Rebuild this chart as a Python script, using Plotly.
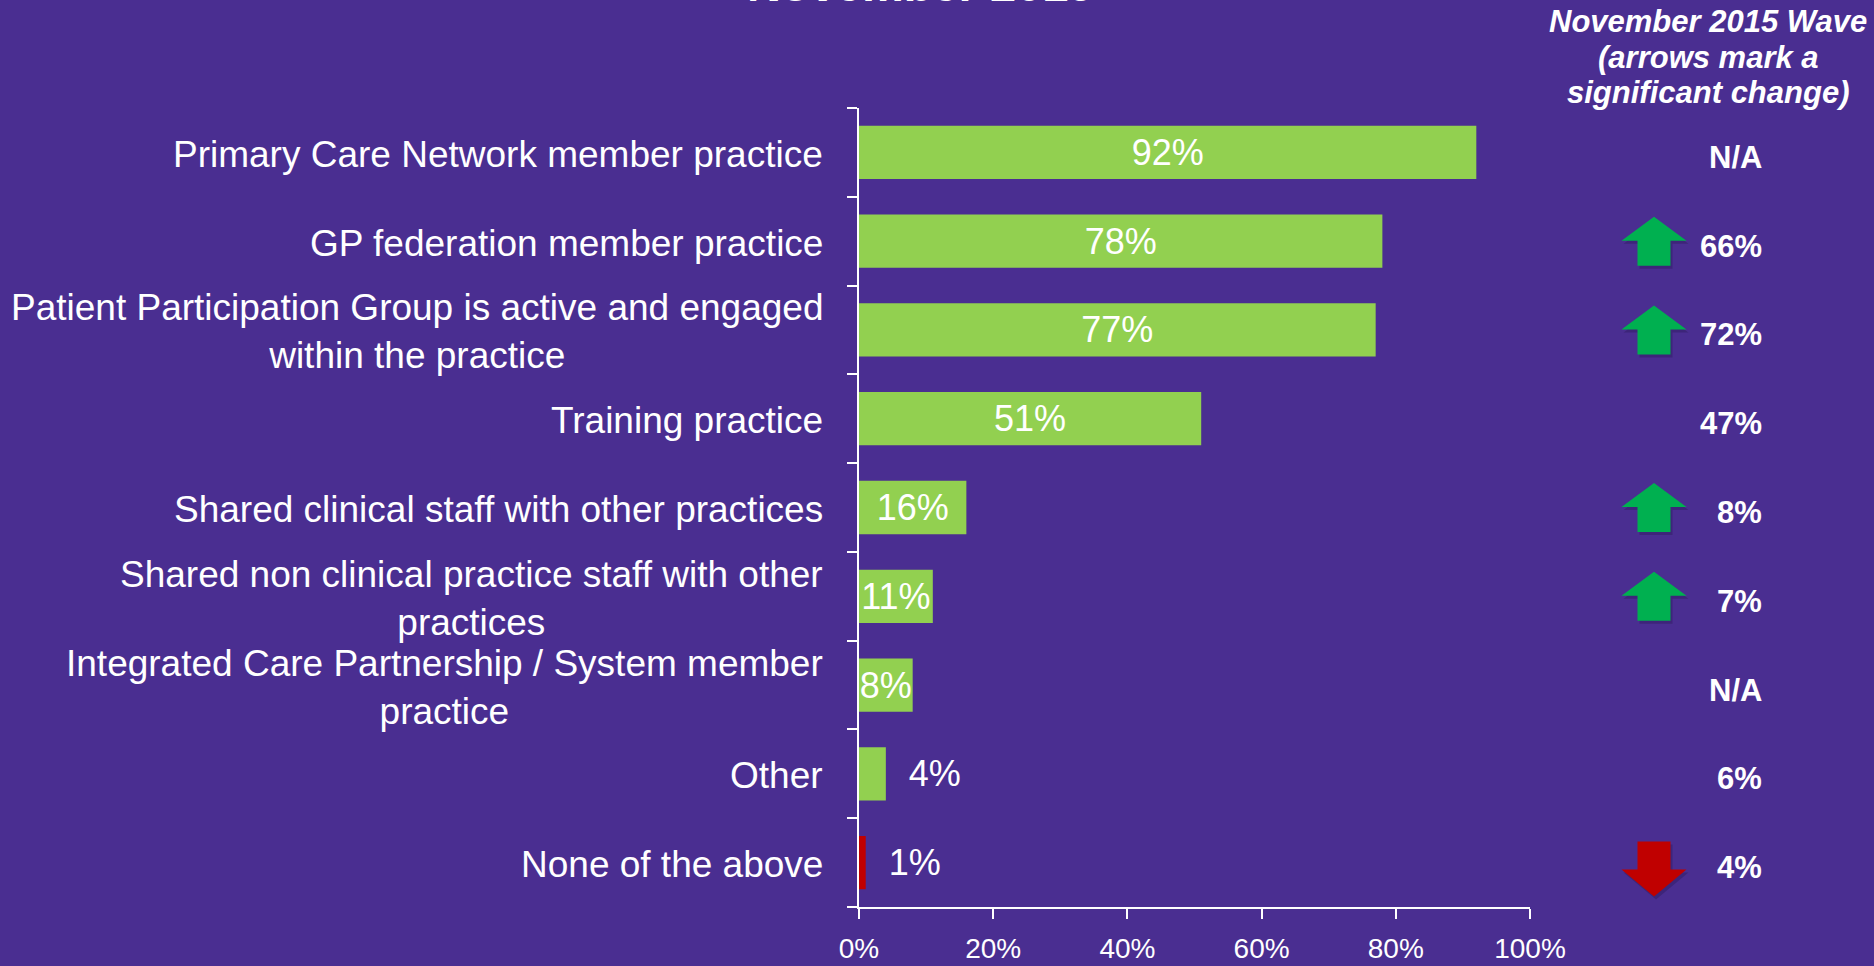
import plotly.graph_objects as go

# ---------------- data ----------------
categories = [
    "Primary Care Network member practice",
    "GP federation member practice",
    "Patient Participation Group is active and engaged<br>within the practice",
    "Training practice",
    "Shared clinical staff with other practices",
    "Shared non clinical practice staff with other<br>practices",
    "Integrated Care Partnership / System member<br>practice",
    "Other",
    "None of the above",
]
values = [92, 78, 77, 51, 16, 11, 8, 4, 1]
bar_colors = ["#92D050"] * 8 + ["#C00000"]
text_positions = ["inside"] * 7 + ["outside", "outside"]
prev_wave = ["N/A", "66%", "72%", "47%", "8%", "7%", "N/A", "6%", "4%"]
significance = [0, 1, 1, 0, 1, 1, 0, 0, -1]   # 1 = up arrow, -1 = down arrow
x_tickvals = [0, 20, 40, 60, 80, 100]
x_ticktext = ["0%", "20%", "40%", "60%", "80%", "100%"]
title_text = "November 2019"
header_lines = ["November 2015 Wave", "(arrows mark a", "significant change)"]

# ---------------- layout geometry ----------------
W, H = 1874, 966
L, R, T, B = 859, 1874 - 1530, 108, 966 - 907
PW, PH = W - L - R, H - T - B
BG = "#4A2E91"
FONT = "Liberation Sans, Arial, sans-serif"


def px_x(px):
    return (px - L) / PW


def px_y(py):
    return 1 - (py - T) / PH


n = len(categories)


def cat_y(i):
    # paper y of a category centre (axis reversed, range [-0.5, n-0.5])
    return 1 - (i + 0.5) / n


bar_text = []
for v, pos in zip(values, text_positions):
    bar_text.append(("  " if pos == "outside" else "") + f"{v}%")

fig = go.Figure(
    go.Bar(
        x=values,
        y=list(range(n)),
        orientation="h",
        marker=dict(color=bar_colors, line=dict(width=0)),
        text=bar_text,
        textposition=text_positions,
        insidetextanchor="middle",
        textangle=0,
        textfont=dict(family=FONT, size=36, color="white"),
        cliponaxis=False,
        hoverinfo="skip",
    )
)

annotations = []
shapes = []

# left category labels (centred multi-line, right-anchored)
for i, c in enumerate(categories):
    annotations.append(dict(
        x=px_x(825), xref="paper", xanchor="right",
        y=cat_y(i), yref="paper", yanchor="middle", yshift=-2,
        text=c, align="center", showarrow=False,
        font=dict(family=FONT, size=37, color="white"),
    ))

# right column: previous wave values
for i, t in enumerate(prev_wave):
    annotations.append(dict(
        x=px_x(1764), xref="paper", xanchor="right",
        y=cat_y(i), yref="paper", yanchor="middle", yshift=-5,
        text=f"<b>{t}</b>", showarrow=False,
        font=dict(family=FONT, size=31, color="white"),
    ))

# header (bold italic, three lines)
for k, (line, base) in enumerate(zip(header_lines, [31, 67, 103])):
    annotations.append(dict(
        x=px_x(1708), xref="paper", xanchor="center",
        y=px_y(base - 10), yref="paper", yanchor="middle",
        text=f"<b><i>{line}</i></b>", showarrow=False,
        font=dict(family=FONT, size=31, color="white"),
    ))

# title, mostly cut off at top of the page (as in the reference)
annotations.append(dict(
    x=px_x(920), xref="paper", xanchor="center",
    y=px_y(-15), yref="paper", yanchor="middle",
    text=f"<b>{title_text}</b>", showarrow=False,
    font=dict(family=FONT, size=47, color="white"),
))


# arrows
def arrow_path(cx, cy_px, direction, dx=0, dy=0):
    hw, sw = 32.5, 16.5
    if direction > 0:
        apex, base, tail = cy_px - 24.5, cy_px - 0.5, cy_px + 24.5
    else:
        apex, base, tail = cy_px + 34, cy_px + 7, cy_px - 21
    pts = [
        (cx, apex), (cx + hw, base), (cx + sw, base), (cx + sw, tail),
        (cx - sw, tail), (cx - sw, base), (cx - hw, base),
    ]
    return "M " + " L ".join(f"{px_x(x + dx):.5f},{px_y(y + dy):.5f}" for x, y in pts) + " Z"


for i, s in enumerate(significance):
    if s == 0:
        continue
    cy_px = T + (i + 0.5) * PH / n
    color = "#00B050" if s > 0 else "#C00000"
    shapes.append(dict(type="path", xref="paper", yref="paper",
                       path=arrow_path(1654, cy_px, s, 2, 3),
                       fillcolor="rgba(20,10,40,0.22)", line=dict(width=0), layer="above"))
    shapes.append(dict(type="path", xref="paper", yref="paper",
                       path=arrow_path(1654, cy_px, s),
                       fillcolor=color, line=dict(width=0), layer="above"))

fig.update_layout(
    width=W, height=H,
    margin=dict(l=L, r=R, t=T, b=B, pad=0, autoexpand=False),
    paper_bgcolor=BG, plot_bgcolor=BG,
    showlegend=False,
    bargap=0.4,
    uniformtext=dict(minsize=36, mode="show"),
    font=dict(family=FONT, color="white"),
    annotations=annotations,
    shapes=shapes,
    xaxis=dict(
        range=[0, 100], tickvals=x_tickvals, ticktext=x_ticktext,
        showline=True, linecolor="white", linewidth=2,
        ticks="outside", ticklen=10, tickwidth=2, tickcolor="white",
        showgrid=False, zeroline=False, automargin=False,
        tickfont=dict(family=FONT, size=28, color="white"),
        ticklabelstandoff=5,
        fixedrange=True,
    ),
    yaxis=dict(
        type="category", categoryarray=list(range(n)),
        range=[n - 0.5, -0.5],
        tickmode="array", tickvals=list(range(n)),
        tickson="boundaries",
        ticks="outside", ticklen=10, tickwidth=2, tickcolor="white",
        showline=True, linecolor="white", linewidth=2,
        showticklabels=False, showgrid=False, zeroline=False, automargin=False,
        fixedrange=True,
    ),
)

fig.write_html(
    "out.html",
    config={"displayModeBar": False},
    post_script=(
        "document.body.style.margin='0';"
        "document.body.style.overflow='hidden';"
        "document.body.style.background='" + BG + "';"
    ),
)
